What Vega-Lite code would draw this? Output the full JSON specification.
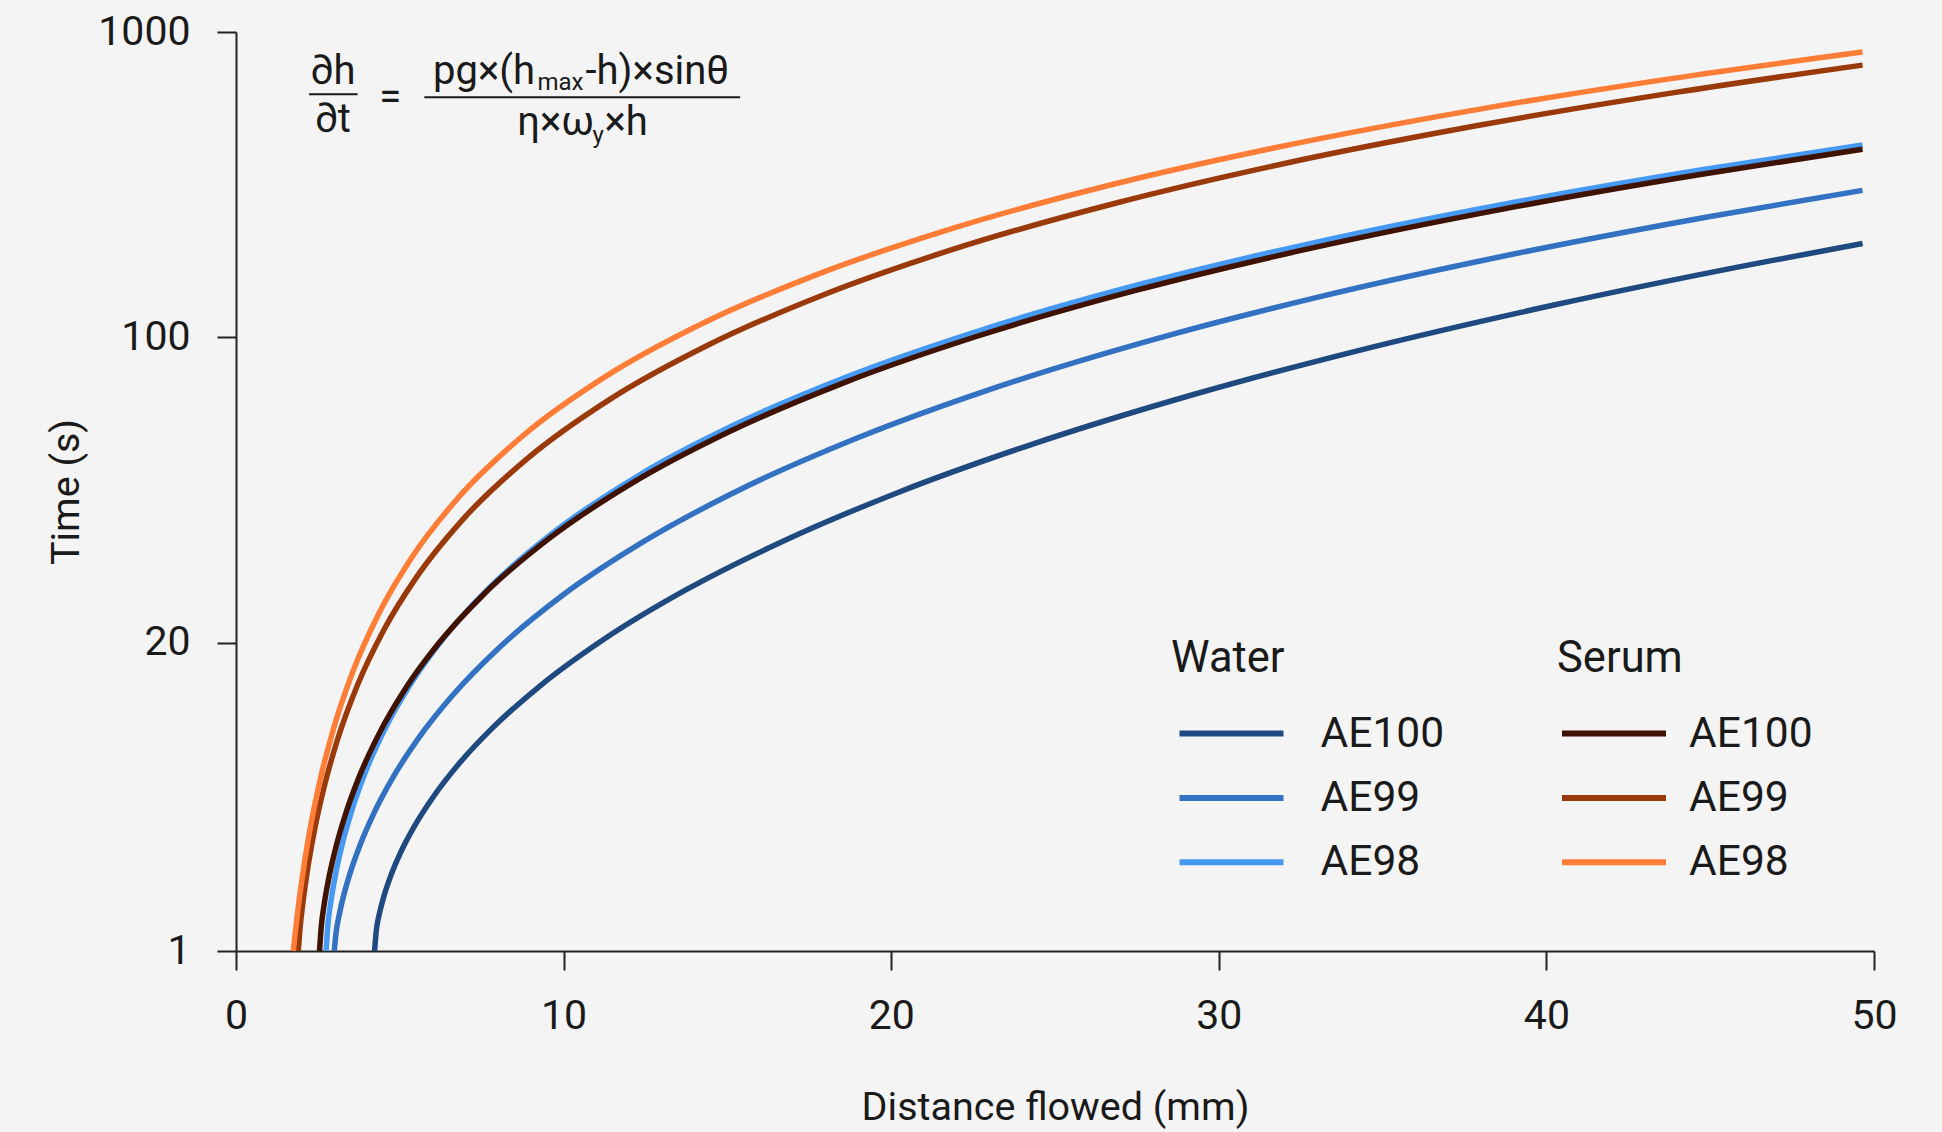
{
  "$schema": "https://vega.github.io/schema/vega-lite/v6.json",
  "autosize": {"type": "none"},
  "width": 1638,
  "height": 919,
  "padding": {"left": 236, "top": 32, "right": 68, "bottom": 181},
  "background": "#f4f4f4",
  "config": {
    "view": {"stroke": null},
    "font": "Roboto",
    "axis": {
      "grid": false,
      "labelFlush": false,
      "domainColor": "#222222",
      "domainWidth": 2,
      "tickColor": "#222222",
      "tickWidth": 2,
      "tickSize": 19,
      "labelFont": "Roboto",
      "labelFontSize": 41,
      "labelColor": "#1a1a1a",
      "titleFont": "Roboto",
      "titleFontSize": 39.5,
      "titleFontWeight": "normal",
      "titleColor": "#1a1a1a"
    },
    "legend": {
      "labelFont": "Roboto",
      "titleFont": "Roboto",
      "labelColor": "#1a1a1a",
      "titleColor": "#1a1a1a",
      "titleFontWeight": "normal",
      "padding": 0
    }
  },
  "data": {
    "values": [
      {"fluid": "Water", "grade": "AE100", "x": 4.23, "t": 1},
      {"fluid": "Water", "grade": "AE100", "x": 4.28, "t": 1.212},
      {"fluid": "Water", "grade": "AE100", "x": 4.38, "t": 1.443},
      {"fluid": "Water", "grade": "AE100", "x": 4.53, "t": 1.730},
      {"fluid": "Water", "grade": "AE100", "x": 4.73, "t": 2.086},
      {"fluid": "Water", "grade": "AE100", "x": 5.03, "t": 2.612},
      {"fluid": "Water", "grade": "AE100", "x": 5.43, "t": 3.330},
      {"fluid": "Water", "grade": "AE100", "x": 6.03, "t": 4.486},
      {"fluid": "Water", "grade": "AE100", "x": 6.83, "t": 6.220},
      {"fluid": "Water", "grade": "AE100", "x": 7.83, "t": 8.733},
      {"fluid": "Water", "grade": "AE100", "x": 9.23, "t": 12.96},
      {"fluid": "Water", "grade": "AE100", "x": 11.23, "t": 20.35},
      {"fluid": "Water", "grade": "AE100", "x": 13.73, "t": 26.39},
      {"fluid": "Water", "grade": "AE100", "x": 16.73, "t": 34.20},
      {"fluid": "Water", "grade": "AE100", "x": 20.23, "t": 44.16},
      {"fluid": "Water", "grade": "AE100", "x": 24.23, "t": 56.61},
      {"fluid": "Water", "grade": "AE100", "x": 29.23, "t": 73.87},
      {"fluid": "Water", "grade": "AE100", "x": 34.23, "t": 92.99},
      {"fluid": "Water", "grade": "AE100", "x": 40.23, "t": 127.3},
      {"fluid": "Water", "grade": "AE100", "x": 46.23, "t": 172.7},
      {"fluid": "Water", "grade": "AE100", "x": 49.65, "t": 202.5},

      {"fluid": "Water", "grade": "AE99", "x": 3.00, "t": 1},
      {"fluid": "Water", "grade": "AE99", "x": 3.05, "t": 1.181},
      {"fluid": "Water", "grade": "AE99", "x": 3.15, "t": 1.420},
      {"fluid": "Water", "grade": "AE99", "x": 3.30, "t": 1.743},
      {"fluid": "Water", "grade": "AE99", "x": 3.50, "t": 2.168},
      {"fluid": "Water", "grade": "AE99", "x": 3.80, "t": 2.830},
      {"fluid": "Water", "grade": "AE99", "x": 4.20, "t": 3.789},
      {"fluid": "Water", "grade": "AE99", "x": 4.80, "t": 5.423},
      {"fluid": "Water", "grade": "AE99", "x": 5.60, "t": 8.003},
      {"fluid": "Water", "grade": "AE99", "x": 6.60, "t": 11.93},
      {"fluid": "Water", "grade": "AE99", "x": 8.00, "t": 18.85},
      {"fluid": "Water", "grade": "AE99", "x": 10.00, "t": 25.76},
      {"fluid": "Water", "grade": "AE99", "x": 12.50, "t": 34.25},
      {"fluid": "Water", "grade": "AE99", "x": 15.50, "t": 45.20},
      {"fluid": "Water", "grade": "AE99", "x": 19.00, "t": 58.90},
      {"fluid": "Water", "grade": "AE99", "x": 23.00, "t": 75.81},
      {"fluid": "Water", "grade": "AE99", "x": 28.00, "t": 98.62},
      {"fluid": "Water", "grade": "AE99", "x": 33.00, "t": 134.9},
      {"fluid": "Water", "grade": "AE99", "x": 39.00, "t": 187.1},
      {"fluid": "Water", "grade": "AE99", "x": 45.00, "t": 248.5},
      {"fluid": "Water", "grade": "AE99", "x": 49.65, "t": 302.5},

      {"fluid": "Water", "grade": "AE98", "x": 2.75, "t": 1},
      {"fluid": "Water", "grade": "AE98", "x": 2.80, "t": 1.265},
      {"fluid": "Water", "grade": "AE98", "x": 2.90, "t": 1.630},
      {"fluid": "Water", "grade": "AE98", "x": 3.05, "t": 2.143},
      {"fluid": "Water", "grade": "AE98", "x": 3.25, "t": 2.845},
      {"fluid": "Water", "grade": "AE98", "x": 3.55, "t": 3.978},
      {"fluid": "Water", "grade": "AE98", "x": 3.95, "t": 5.678},
      {"fluid": "Water", "grade": "AE98", "x": 4.55, "t": 8.662},
      {"fluid": "Water", "grade": "AE98", "x": 5.35, "t": 13.50},
      {"fluid": "Water", "grade": "AE98", "x": 6.35, "t": 20.53},
      {"fluid": "Water", "grade": "AE98", "x": 7.75, "t": 26.78},
      {"fluid": "Water", "grade": "AE98", "x": 9.75, "t": 36.00},
      {"fluid": "Water", "grade": "AE98", "x": 12.25, "t": 48.03},
      {"fluid": "Water", "grade": "AE98", "x": 15.25, "t": 63.13},
      {"fluid": "Water", "grade": "AE98", "x": 18.75, "t": 81.64},
      {"fluid": "Water", "grade": "AE98", "x": 22.75, "t": 105.4},
      {"fluid": "Water", "grade": "AE98", "x": 27.75, "t": 150.3},
      {"fluid": "Water", "grade": "AE98", "x": 32.75, "t": 202.0},
      {"fluid": "Water", "grade": "AE98", "x": 38.75, "t": 273.0},
      {"fluid": "Water", "grade": "AE98", "x": 44.75, "t": 353.5},
      {"fluid": "Water", "grade": "AE98", "x": 49.65, "t": 426.1},

      {"fluid": "Serum", "grade": "AE100", "x": 2.55, "t": 1},
      {"fluid": "Serum", "grade": "AE100", "x": 2.60, "t": 1.253},
      {"fluid": "Serum", "grade": "AE100", "x": 2.70, "t": 1.600},
      {"fluid": "Serum", "grade": "AE100", "x": 2.85, "t": 2.084},
      {"fluid": "Serum", "grade": "AE100", "x": 3.05, "t": 2.743},
      {"fluid": "Serum", "grade": "AE100", "x": 3.35, "t": 3.803},
      {"fluid": "Serum", "grade": "AE100", "x": 3.75, "t": 5.388},
      {"fluid": "Serum", "grade": "AE100", "x": 4.35, "t": 8.162},
      {"fluid": "Serum", "grade": "AE100", "x": 5.15, "t": 12.65},
      {"fluid": "Serum", "grade": "AE100", "x": 6.15, "t": 19.57},
      {"fluid": "Serum", "grade": "AE100", "x": 7.55, "t": 25.74},
      {"fluid": "Serum", "grade": "AE100", "x": 9.55, "t": 34.57},
      {"fluid": "Serum", "grade": "AE100", "x": 12.05, "t": 46.13},
      {"fluid": "Serum", "grade": "AE100", "x": 15.05, "t": 60.69},
      {"fluid": "Serum", "grade": "AE100", "x": 18.55, "t": 78.56},
      {"fluid": "Serum", "grade": "AE100", "x": 22.55, "t": 100.0},
      {"fluid": "Serum", "grade": "AE100", "x": 27.55, "t": 142.9},
      {"fluid": "Serum", "grade": "AE100", "x": 32.55, "t": 192.6},
      {"fluid": "Serum", "grade": "AE100", "x": 38.55, "t": 261.1},
      {"fluid": "Serum", "grade": "AE100", "x": 44.55, "t": 339.0},
      {"fluid": "Serum", "grade": "AE100", "x": 49.65, "t": 412.8},

      {"fluid": "Serum", "grade": "AE99", "x": 1.90, "t": 1},
      {"fluid": "Serum", "grade": "AE99", "x": 1.95, "t": 1.226},
      {"fluid": "Serum", "grade": "AE99", "x": 2.05, "t": 1.632},
      {"fluid": "Serum", "grade": "AE99", "x": 2.20, "t": 2.279},
      {"fluid": "Serum", "grade": "AE99", "x": 2.40, "t": 3.255},
      {"fluid": "Serum", "grade": "AE99", "x": 2.70, "t": 4.982},
      {"fluid": "Serum", "grade": "AE99", "x": 3.10, "t": 7.800},
      {"fluid": "Serum", "grade": "AE99", "x": 3.70, "t": 13.15},
      {"fluid": "Serum", "grade": "AE99", "x": 4.50, "t": 21.29},
      {"fluid": "Serum", "grade": "AE99", "x": 5.50, "t": 28.16},
      {"fluid": "Serum", "grade": "AE99", "x": 6.90, "t": 38.08},
      {"fluid": "Serum", "grade": "AE99", "x": 8.90, "t": 52.78},
      {"fluid": "Serum", "grade": "AE99", "x": 11.40, "t": 71.92},
      {"fluid": "Serum", "grade": "AE99", "x": 14.40, "t": 95.75},
      {"fluid": "Serum", "grade": "AE99", "x": 17.90, "t": 137.1},
      {"fluid": "Serum", "grade": "AE99", "x": 21.90, "t": 194.0},
      {"fluid": "Serum", "grade": "AE99", "x": 26.90, "t": 275.6},
      {"fluid": "Serum", "grade": "AE99", "x": 31.90, "t": 368.5},
      {"fluid": "Serum", "grade": "AE99", "x": 37.90, "t": 493.4},
      {"fluid": "Serum", "grade": "AE99", "x": 43.90, "t": 632.7},
      {"fluid": "Serum", "grade": "AE99", "x": 49.65, "t": 778.9},

      {"fluid": "Serum", "grade": "AE98", "x": 1.75, "t": 1},
      {"fluid": "Serum", "grade": "AE98", "x": 1.80, "t": 1.164},
      {"fluid": "Serum", "grade": "AE98", "x": 1.90, "t": 1.530},
      {"fluid": "Serum", "grade": "AE98", "x": 2.05, "t": 2.172},
      {"fluid": "Serum", "grade": "AE98", "x": 2.25, "t": 3.205},
      {"fluid": "Serum", "grade": "AE98", "x": 2.55, "t": 5.135},
      {"fluid": "Serum", "grade": "AE98", "x": 2.95, "t": 8.418},
      {"fluid": "Serum", "grade": "AE98", "x": 3.55, "t": 14.88},
      {"fluid": "Serum", "grade": "AE98", "x": 4.35, "t": 23.23},
      {"fluid": "Serum", "grade": "AE98", "x": 5.35, "t": 31.18},
      {"fluid": "Serum", "grade": "AE98", "x": 6.75, "t": 42.61},
      {"fluid": "Serum", "grade": "AE98", "x": 8.75, "t": 59.36},
      {"fluid": "Serum", "grade": "AE98", "x": 11.25, "t": 80.93},
      {"fluid": "Serum", "grade": "AE98", "x": 14.25, "t": 110.9},
      {"fluid": "Serum", "grade": "AE98", "x": 17.75, "t": 160.5},
      {"fluid": "Serum", "grade": "AE98", "x": 21.75, "t": 225.0},
      {"fluid": "Serum", "grade": "AE98", "x": 26.75, "t": 316.2},
      {"fluid": "Serum", "grade": "AE98", "x": 31.75, "t": 418.1},
      {"fluid": "Serum", "grade": "AE98", "x": 37.75, "t": 553.5},
      {"fluid": "Serum", "grade": "AE98", "x": 43.75, "t": 702.0},
      {"fluid": "Serum", "grade": "AE98", "x": 49.65, "t": 859.9}
    ]
  },
  "encoding": {
    "x": {
      "field": "x",
      "type": "quantitative",
      "scale": {"domain": [0, 50], "nice": false, "zero": false},
      "axis": {"title": "Distance flowed (mm)", "values": [0, 10, 20, 30, 40, 50], "format": "d", "labelPadding": 26, "titlePadding": 52}
    },
    "y": {
      "field": "t",
      "type": "quantitative",
      "scale": {"type": "log", "domain": [1, 20, 100, 1000], "range": [919, 610.6, 305, 0], "nice": false, "zero": false},
      "axis": {"title": "Time (s)", "values": [1, 20, 100, 1000], "format": "d", "labelPadding": 27, "titlePadding": 11}
    }
  },
  "layer": [
    {
      "transform": [{"filter": "datum.fluid === 'Water'"}],
      "mark": {"type": "line", "strokeWidth": 5.5, "interpolate": "monotone"},
      "encoding": {
        "color": {
          "field": "grade",
          "type": "nominal",
          "scale": {"domain": ["AE100", "AE99", "AE98"], "range": ["#1f4a80", "#3371c2", "#4599f2"]},
          "legend": {
            "title": "Water",
            "orient": "none",
            "legendX": 935,
            "legendY": 606,
            "direction": "vertical",
            "symbolType": "stroke",
            "symbolSize": 10816,
            "symbolStrokeWidth": 6,
            "clipHeight": 50,
            "rowPadding": 14.4,
            "symbolOffset": 5.5,
            "labelOffset": 34,
            "labelFontSize": 42.5,
            "titleFontSize": 43.5,
            "titlePadding": 27
          }
        }
      }
    },
    {
      "transform": [{"filter": "datum.fluid === 'Serum'"}],
      "mark": {"type": "line", "strokeWidth": 5.5, "interpolate": "monotone"},
      "encoding": {
        "color": {
          "field": "grade",
          "type": "nominal",
          "scale": {"domain": ["AE100", "AE99", "AE98"], "range": ["#401200", "#9a3a0a", "#ff7d36"]},
          "legend": {
            "title": "Serum",
            "orient": "none",
            "legendX": 1321,
            "legendY": 606,
            "direction": "vertical",
            "symbolType": "stroke",
            "symbolSize": 10816,
            "symbolStrokeWidth": 6,
            "clipHeight": 50,
            "rowPadding": 14.4,
            "symbolOffset": 2,
            "labelOffset": 20,
            "labelFontSize": 42.5,
            "titleFontSize": 43.5,
            "titlePadding": 27
          }
        }
      }
    },
    {
      "transform": [{"sample": 1}],
      "layer": [
        {
          "mark": {"type": "text", "text": "∂h", "fontSize": 40, "align": "center", "baseline": "alphabetic", "color": "#1a1a1a"},
          "encoding": {"x": {"datum": 2.961}, "y": {"datum": 673.9}}
        },
        {
          "mark": {"type": "rule", "strokeWidth": 2, "color": "#1a1a1a"},
          "encoding": {"x": {"datum": 2.231}, "x2": {"datum": 3.709}, "y": {"datum": 625.0}}
        },
        {
          "mark": {"type": "text", "text": "∂t", "fontSize": 40, "align": "center", "baseline": "alphabetic", "color": "#1a1a1a"},
          "encoding": {"x": {"datum": 2.961}, "y": {"datum": 470.9}}
        },
        {
          "mark": {"type": "text", "text": "=", "fontSize": 40, "align": "center", "baseline": "alphabetic", "color": "#1a1a1a"},
          "encoding": {"x": {"datum": 4.707}, "y": {"datum": 555.9}}
        },
        {
          "mark": {"type": "text", "text": "pg×(h", "fontSize": 40, "align": "left", "baseline": "alphabetic", "color": "#1a1a1a"},
          "encoding": {"x": {"datum": 6.013}, "y": {"datum": 673.9}}
        },
        {
          "mark": {"type": "text", "text": "max", "fontSize": 24, "align": "left", "baseline": "alphabetic", "color": "#1a1a1a"},
          "encoding": {"x": {"datum": 9.203}, "y": {"datum": 644.0}}
        },
        {
          "mark": {"type": "text", "text": "-h)×sinθ", "fontSize": 40, "align": "left", "baseline": "alphabetic", "color": "#1a1a1a"},
          "encoding": {"x": {"datum": 10.669}, "y": {"datum": 673.9}}
        },
        {
          "mark": {"type": "rule", "strokeWidth": 2, "color": "#1a1a1a"},
          "encoding": {"x": {"datum": 5.748}, "x2": {"datum": 15.388}, "y": {"datum": 611.0}}
        },
        {
          "mark": {"type": "text", "text": "η×ω", "fontSize": 40, "align": "left", "baseline": "alphabetic", "color": "#1a1a1a"},
          "encoding": {"x": {"datum": 8.584}, "y": {"datum": 460.3}}
        },
        {
          "mark": {"type": "text", "text": "y", "fontSize": 24, "align": "left", "baseline": "alphabetic", "color": "#1a1a1a"},
          "encoding": {"x": {"datum": 10.882}, "y": {"datum": 433.4}}
        },
        {
          "mark": {"type": "text", "text": "×h", "fontSize": 40, "align": "left", "baseline": "alphabetic", "color": "#1a1a1a"},
          "encoding": {"x": {"datum": 11.248}, "y": {"datum": 460.3}}
        }
      ]
    }
  ],
  "resolve": {"scale": {"color": "independent"}, "legend": {"color": "independent"}}
}
